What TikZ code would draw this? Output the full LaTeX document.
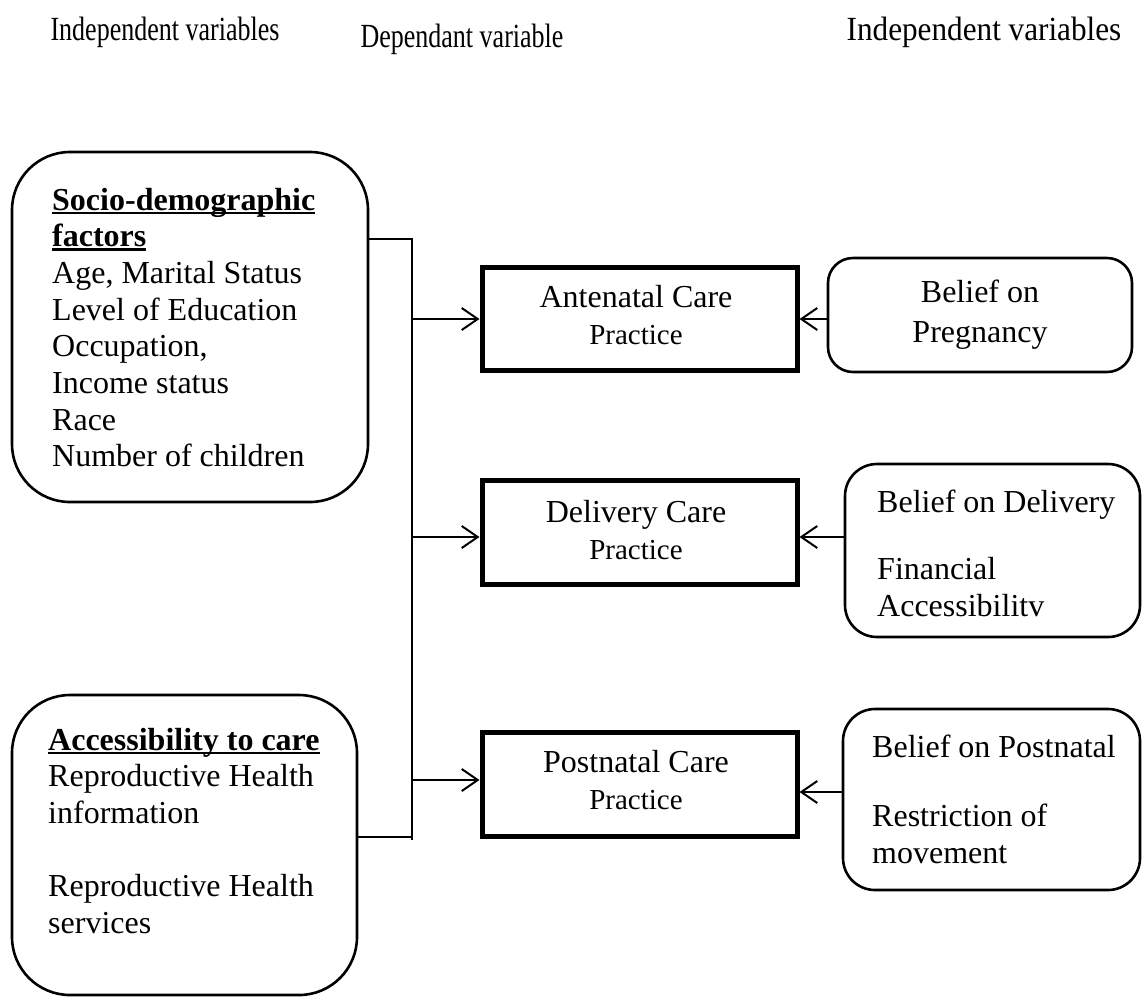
\documentclass[tikz,border=0pt]{standalone}
\usepackage{fontspec}
\setmainfont{Liberation Serif}
\usetikzlibrary{arrows.meta}
\newcommand\myul[1]{\setbox0\hbox{#1}\rlap{\rule[-4pt]{\wd0}{2.5pt}}\box0}
\newcommand\lft[1]{\begin{tabular}[t]{@{}l@{}}#1\end{tabular}}
\newcommand\ctr[1]{\begin{tabular}[t]{@{}c@{}}#1\end{tabular}}
\tikzset{
  rbox/.style={draw, line width=2.6pt, rounded corners=#1},
  thickbox/.style={draw, line width=5pt},
  txt/.style={inner sep=0pt, font=\fontsize{32}{36.7}\selectfont},
  head/.style={inner sep=0pt, font=\fontsize{26}{30}\selectfont, anchor=base, yscale=1.3},
  conn/.style={line width=2pt},
  arr/.style={line width=2pt, -{Straight Barb[length=16pt,width=22pt,line width=2pt]}},
}
\begin{document}
\begin{tikzpicture}[x=1pt,y=-1pt]
\useasboundingbox (0,0) rectangle (1142,997);
% headers
\node[head] (h1) at (165,40) {Independent variables};
\node[head] (h2) at (462,47) {Dependant variable};
\node[head, xscale=1.2] (h3) at (984,40) {Independent variables};
% frames
\path[rbox=58] (12,152) rectangle (368,502);
\node[inner sep=0pt, minimum width=356pt, minimum height=350pt] (socio) at (190,327) {};
\path[rbox=58] (12,695) rectangle (357,995);
\node[inner sep=0pt, minimum width=345pt, minimum height=300pt] (access) at (184.5,845) {};
\node[thickbox, inner sep=0pt, minimum width=315pt, minimum height=103pt] (ante) at (639.5,318.5) {};
\node[thickbox, inner sep=0pt, minimum width=315pt, minimum height=104pt] (deliv) at (639.5,532) {};
\node[thickbox, inner sep=0pt, minimum width=315pt, minimum height=104pt] (post) at (639.5,784) {};
\node[rbox=25, inner sep=0pt, minimum width=304pt, minimum height=114pt] (bp) at (980,315) {};
\node[rbox=32, inner sep=0pt, minimum width=295pt, minimum height=173pt] (bd) at (992.5,550.5) {};
\node[rbox=32, inner sep=0pt, minimum width=297pt, minimum height=181pt] (bpn) at (991.5,799.5) {};
% texts
\node[txt, anchor=base west] (sociot) at (52,210) {\lft{\textbf{\myul{Socio-demographic}}\\ \textbf{\myul{factors}}\\ Age, Marital Status\\ Level of Education\\ Occupation,\\ Income status\\ Race\\ Number of children}};
\node[txt, anchor=base west] (accesst) at (48,750) {\lft{\textbf{\myul{Accessibility to care}}\\ Reproductive Health\\ information\\[36.5pt] Reproductive Health\\ services}};
\node[txt, anchor=base] (antet) at (636,307) {\ctr{Antenatal Care\\[1pt] {\fontsize{29}{34}\selectfont Practice}}};
\node[txt, anchor=base] (delivt) at (636,522) {\ctr{Delivery Care\\[1pt] {\fontsize{29}{34}\selectfont Practice}}};
\node[txt, anchor=base] (postt) at (636,772) {\ctr{Postnatal Care\\[1pt] {\fontsize{29}{34}\selectfont Practice}}};
\node[txt, anchor=base] (bpt) at (980,302) {\ctr{Belief on\\[4pt] Pregnancy}};
\node[txt, anchor=base west] (bdt) at (877,512) {\lft{Belief on Delivery\\[31pt] Financial\\ Accessibilitv}};
\node[txt, anchor=base west] (bpnt) at (872,757) {\lft{Belief on Postnatal\\[33pt] Restriction of\\ movement}};
% spine
\coordinate (top) at (412,239);
\coordinate (bot) at (412,840);
\coordinate (s1) at (412,319);
\coordinate (s2) at (412,537);
\coordinate (s3) at (412,780);
\coordinate (r3) at (412,792);
\coordinate (ab) at (412,837);
\draw[conn] (socio.east |- top) -- (top) -- (bot);
\draw[conn] (access.east |- ab) -- (ab);
\draw[arr] (s1) -- (s1 -| ante.west);
\draw[arr] (s2) -- (s2 -| deliv.west);
\draw[arr] (s3) -- (s3 -| post.west);
\draw[arr] (bp.west |- s1) -- (s1 -| ante.east);
\draw[arr] (bd.west |- s2) -- (s2 -| deliv.east);
\draw[arr] (bpn.west |- r3) -- (r3 -| post.east);
\end{tikzpicture}
\end{document}
